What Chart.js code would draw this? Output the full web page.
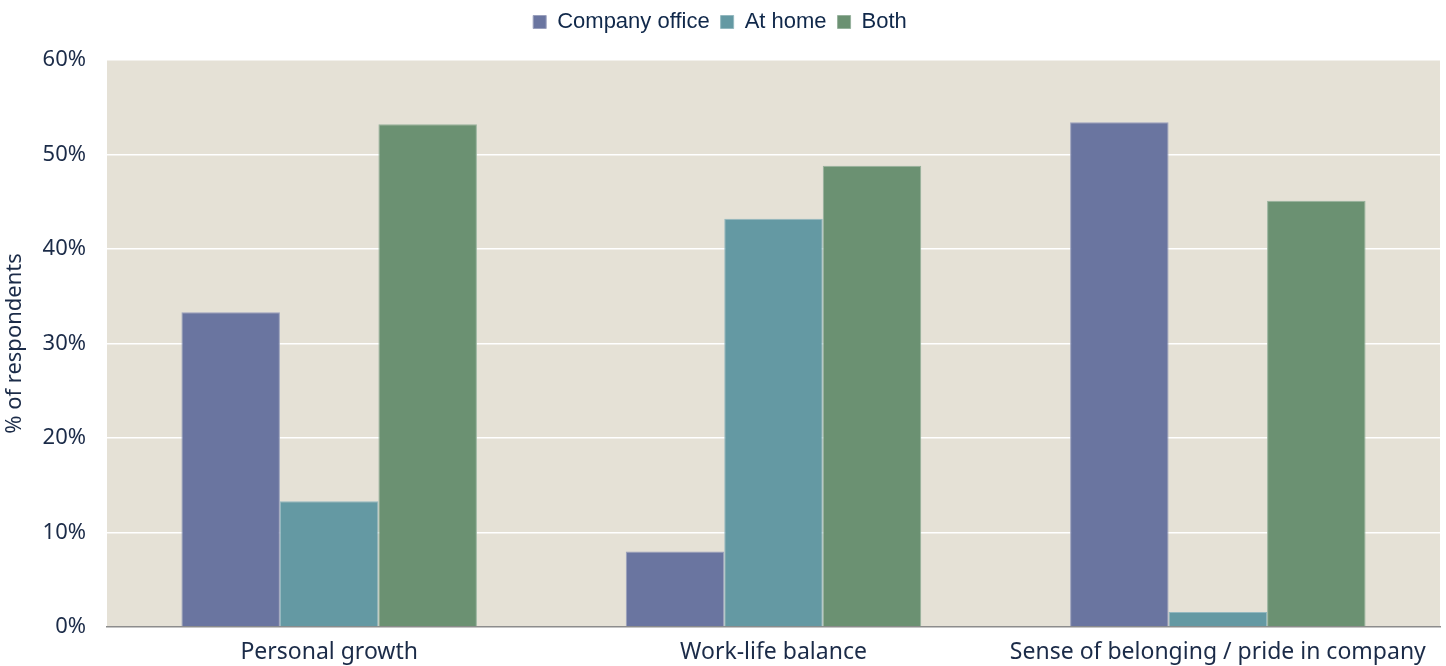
<!DOCTYPE html>
<html>
<head>
<meta charset="utf-8">
<script src="https://cdn.jsdelivr.net/npm/chart.js@4"></script>
<style>
  html, body { margin: 0; padding: 0; background: #ffffff; }
  #wrap { width: 1446px; height: 666px; }
</style>
</head>
<body>
<div id="wrap"><canvas id="chart" width="1446" height="666"></canvas></div>
<script>
// data
const categories = ['Personal growth', 'Work-life balance', 'Sense of belonging / pride in company'];
const seriesNames = ['Company office', 'At home', 'Both'];
const companyOffice = [33.3, 8.0, 53.4];
const atHome = [13.3, 43.2, 1.6];
const both = [53.2, 48.8, 45.1];
const yTicks = [0, 10, 20, 30, 40, 50, 60];

const colors = ['#6a75a0', '#6499a3', '#6b9172'];
const borders = ['#9aa0bd', '#93b8bf', '#97b29d'];
const textColor = '#1b2b48';
const tickFont = 'Noto Sans';

// fill the plot area with the beige background
const plotBg = {
    id: 'plotBg',
    beforeDraw(chart) {
        const a = chart.chartArea;
        const ctx = chart.ctx;
        ctx.save();
        ctx.fillStyle = '#e5e1d6';
        ctx.fillRect(a.left, a.top, a.right - a.left, a.bottom - a.top);
        ctx.restore();
    }
};

// extra room under the legend
const legendGap = {
    id: 'legendGap',
    beforeInit(chart) {
        const fit = chart.legend.fit;
        chart.legend.fit = function() {
            fit.bind(chart.legend)();
            this.height = 60;
        };
    }
};

const series = [companyOffice, atHome, both];

new Chart(document.getElementById('chart'), {
    type: 'bar',
    data: {
        labels: categories,
        datasets: series.map((vals, i) => ({
            label: seriesNames[i],
            data: vals,
            backgroundColor: colors[i],
            borderColor: borders[i],
            borderWidth: 1,
            categoryPercentage: 0.665,
            barPercentage: 1.0
        }))
    },
    options: {
        responsive: false,
        animation: false,
        layout: { padding: { left: 0, right: 6, top: 0, bottom: 0 } },
        plugins: {
            legend: {
                position: 'top',
                labels: {
                    boxWidth: 13,
                    boxHeight: 13,
                    padding: 11,
                    color: '#10284a',
                    font: { family: 'Liberation Sans', size: 22 }
                }
            },
            tooltip: { enabled: false }
        },
        scales: {
            x: {
                afterFit(axis) { axis.height = 39; },
                grid: { display: false, drawTicks: false },
                border: { display: true, color: '#8c8c8c', width: 1.5 },
                ticks: {
                    color: textColor,
                    font: { family: tickFont, size: 23 },
                    padding: 12,
                    maxRotation: 0
                }
            },
            y: {
                min: 0,
                max: 60,
                afterFit(axis) { axis.width = 107; },
                afterBuildTicks(axis) {
                    axis.ticks = yTicks.map(v => ({ value: v }));
                },
                grid: { color: '#ffffff', lineWidth: 1.5, drawTicks: false },
                border: { display: false },
                ticks: {
                    color: textColor,
                    font: { family: tickFont, size: 22 },
                    padding: 21,
                    callback: v => v + '%'
                },
                title: {
                    display: true,
                    text: '% of respondents',
                    color: textColor,
                    font: { family: tickFont, size: 22 },
                    padding: { top: 2, bottom: 0 }
                }
            }
        }
    },
    plugins: [plotBg, legendGap]
});
</script>
</body>
</html>
